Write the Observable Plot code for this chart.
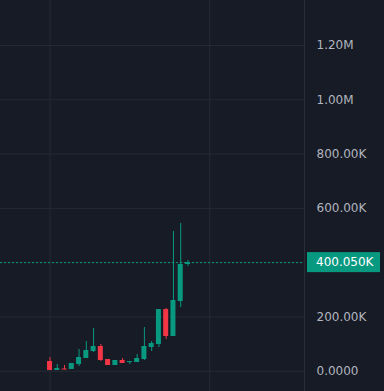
<!DOCTYPE html>
<html><head><meta charset="utf-8">
<script src="https://cdn.jsdelivr.net/npm/d3@7"></script>
<script src="https://cdn.jsdelivr.net/npm/@observablehq/plot@0.6"></script>
<style>
html,body{margin:0;padding:0;background:#171b26;overflow:hidden}
svg{display:block}
</style></head><body><div id="chart"></div>
<script>
// Candle data (index order, oldest first)
const opens  = [35700, 2600, 8100, 6300, 24700, 46800, 72600, 91000, 43100, 21000, 39400, 32000, 32000, 43100, 87300, 98400, 227000, 127800, 256800, 393100];
const highs  = [50500, 24700, 21000, 28400, 80000, 109400, 157300, 98400, 43100, 39400, 46800, 35700, 61500, 161000, 109400, 227000, 231000, 514700, 544200, 407900];
const lows   = [2600, 2600, 4400, 6300, 17300, 46800, 68900, 35700, 21000, 21000, 28400, 24700, 32000, 39400, 72600, 87300, 116800, 127800, 234700, 385800];
const closes = [2600, 10000, 4400, 28400, 50500, 76300, 91000, 39400, 21000, 39400, 28400, 35700, 46800, 91000, 102000, 227000, 127800, 260500, 393100, 400050];
const gridTicks = [0, 200000, 400000, 600000, 800000, 1000000, 1200000];
// 400.00K label is hidden behind the last-price label
const yTicks = [0, 200000, 600000, 800000, 1000000, 1200000];
const yTickLabels = ["0.0000", "200.00K", "600.00K", "800.00K", "1.00M", "1.20M"];
const vGridIdx = [0, 22];
const lastPrice = 400050;
const lastPriceLabel = "400.050K";

const green = "#089981", red = "#f23645", bg = "#171b26", grid = "#262a35";
const font = "'DejaVu Sans', sans-serif";
const bars = opens.map((o, i) => ({i, open: o, high: highs[i], low: lows[i], close: closes[i], col: closes[i] >= o ? green : red}));
const xDomain = [-6.82, 35.05];

const chart = Plot.plot({
  width: 384, height: 391,
  marginTop: 0, marginBottom: 0, marginLeft: 0, marginRight: 80,
  style: {background: bg, color: "#b2b5be", fontFamily: font, fontSize: "12px"},
  x: {type: "linear", domain: xDomain, axis: null},
  y: {domain: [-74800, 1365800], ticks: yTicks, tickFormat: d => yTickLabels[yTicks.indexOf(d)], axis: "right", tickSize: 0, tickPadding: 12, label: null},
  color: {type: "identity"},
  marks: [
    Plot.ruleY(gridTicks, {stroke: grid}),
    Plot.ruleX(vGridIdx, {stroke: grid}),
    Plot.ruleX([xDomain[1]], {stroke: "#2a2e39"}),
    Plot.ruleY([lastPrice], {stroke: green, strokeDasharray: "2,2"}),
    Plot.ruleX(bars, {x: "i", y1: "low", y2: "high", stroke: "col"}),
    Plot.rect(bars, {x1: d => d.i - 0.344, x2: d => d.i + 0.344, y1: "open", y2: "close", fill: "col"})
  ]
});
document.getElementById("chart").appendChild(chart);

// last-price label on the price axis
const yp = chart.scale("y").apply(lastPrice);
const svg = d3.select(chart);
svg.append("rect").attr("x", 307).attr("y", yp - 10).attr("width", 73).attr("height", 20).attr("fill", green);
svg.append("text").attr("x", 316).attr("y", yp).attr("dy", "0.35em").attr("text-anchor", "start")
  .attr("fill", "#ffffff").attr("font-family", font).attr("font-size", 12)
  .text(lastPriceLabel);
</script></body></html>
